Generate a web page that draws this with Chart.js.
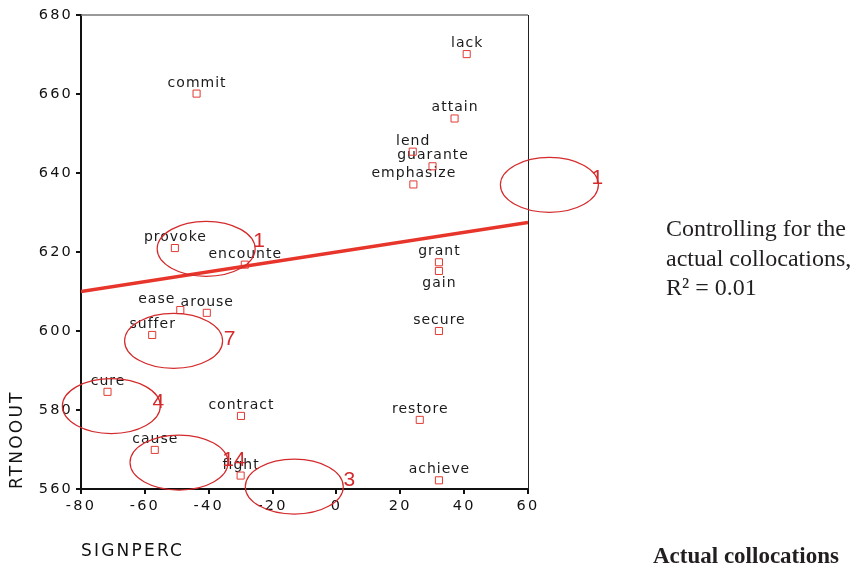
<!DOCTYPE html>
<html>
<head>
<meta charset="utf-8">
<script src="https://cdn.jsdelivr.net/npm/chart.js@4"></script>
<style>
    html, body { margin: 0; padding: 0; background: #fff; }
    #wrap { width: 854px; height: 565px; position: relative; }
</style>
</head>
<body>
<div id="wrap"><canvas id="chart" width="854" height="565"></canvas></div>
<script>
// verbs: SIGNPERC vs RTNOOUT
const words = ['lack', 'commit', 'attain', 'lend', 'guarante', 'emphasize', 'grant', 'gain', 'secure', 'restore',
    'achieve', 'provoke', 'encounte', 'ease', 'arouse', 'suffer', 'cure', 'contract', 'cause', 'fight'];
const signperc = [40.8, -43.8, 37.0, 23.9, 30.1, 24.1, 32.1, 32.1, 32.1, 26.1,
    32.1, -50.6, -28.7, -48.9, -40.6, -57.7, -71.7, -29.9, -56.9, -30.0];
const rtnoout = [670.1, 660.1, 653.8, 645.4, 641.7, 637.1, 617.4, 615.2, 600.0, 577.5,
    562.2, 621.0, 616.8, 605.3, 604.6, 599.0, 584.6, 578.5, 569.9, 563.4];

// fit line
const fitX = [-80, 60];
const fitY = [610.0, 627.5];

// circled groups of actual collocations
const clusterX = [-40.8, 66.7, -51.0, -70.5, -49.3, -13.2];
const clusterY = [620.8, 637.0, 597.5, 581.0, 566.7, 560.6];
const clusterCount = ['1', '1', '7', '4', '14', '3'];

const xTicks = [-80, -60, -40, -20, 0, 20, 40, 60];
const yTicks = [560, 580, 600, 620, 640, 660, 680];

const noteLines = ['Controlling for the', 'actual collocations,', 'R\u00b2 = 0.01'];
const footText = 'Actual collocations';

// label tweaks (pixels)
const labelShift = { ease: [-24, 0], gain: [0, 23] };
const countShift = [[53, -8], [48, -7], [56, -2], [47, -4], [55, -2], [55, -6]];

const red = '#e23a33';

const decor = {
    id: 'decor',
    beforeDraw(chart) {
        chart.ctx.letterSpacing = '2.2px';
    },
    beforeDatasetsDraw(chart) {
        const ctx = chart.ctx;
        const a = chart.chartArea;
        ctx.letterSpacing = '0px';
        // top + right frame
        ctx.save();
        ctx.strokeStyle = '#777';
        ctx.lineWidth = 1.5;
        ctx.beginPath();
        ctx.moveTo(a.left, a.top);
        ctx.lineTo(a.right, a.top);
        ctx.stroke();
        ctx.strokeStyle = '#222';
        ctx.lineWidth = 1;
        ctx.beginPath();
        ctx.moveTo(a.right + 0.5, a.top);
        ctx.lineTo(a.right + 0.5, a.bottom);
        ctx.stroke();
        ctx.restore();

        // point labels
        const meta = chart.getDatasetMeta(0);
        ctx.save();
        ctx.font = '14px "DejaVu Sans"';
        ctx.letterSpacing = '1px';
        ctx.fillStyle = '#1a1a1a';
        ctx.textAlign = 'center';
        ctx.textBaseline = 'alphabetic';
        meta.data.forEach((pt, i) => {
            const s = labelShift[words[i]] || [0, 0];
            ctx.fillText(words[i], pt.x + s[0] + 0.5, pt.y - 7 + s[1]);
        });
        ctx.restore();
    },
    afterDatasetsDraw(chart) {
        const ctx = chart.ctx;
        const xs = chart.scales.x;
        const ys = chart.scales.y;
        ctx.save();
        ctx.strokeStyle = '#d42a2c';
        ctx.lineWidth = 1.2;
        ctx.fillStyle = '#d42a2c';
        ctx.font = '21px "Liberation Sans"';
        ctx.textAlign = 'center';
        ctx.textBaseline = 'middle';
        clusterX.forEach((cx, i) => {
            const px = xs.getPixelForValue(cx);
            const py = ys.getPixelForValue(clusterY[i]);
            ctx.beginPath();
            ctx.ellipse(px, py, 49, 27.5, 0, 0, Math.PI * 2);
            ctx.stroke();
            ctx.fillText(clusterCount[i], px + countShift[i][0], py + countShift[i][1]);
        });
        ctx.restore();
    },
    afterDraw(chart) {
        const ctx = chart.ctx;
        ctx.save();
        ctx.fillStyle = '#231f20';
        ctx.textAlign = 'left';
        ctx.textBaseline = 'alphabetic';
        ctx.font = '24px "Liberation Serif"';
        const base = [236, 266, 295];
        noteLines.forEach((t, i) => ctx.fillText(t, 666, base[i]));
        ctx.font = 'bold 23px "Liberation Serif"';
        ctx.fillText(footText, 653, 563);
        ctx.restore();
    }
};

new Chart(document.getElementById('chart'), {
    type: 'scatter',
    data: {
        datasets: [{
            label: 'RTNOOUT',
            data: signperc.map((x, i) => ({ x: x, y: rtnoout[i] })),
            pointStyle: 'rect',
            radius: 5,
            borderColor: red,
            borderWidth: 1,
            backgroundColor: 'rgba(255,255,255,0)',
            order: 1
        }, {
            type: 'line',
            label: 'fit',
            data: fitX.map((x, i) => ({ x: x, y: fitY[i] })),
            borderColor: '#e8352b',
            borderWidth: 3.5,
            pointRadius: 0,
            fill: false,
            order: 0
        }]
    },
    options: {
        responsive: false,
        animation: false,
        layout: { padding: { top: 15, right: 326, bottom: 0, left: 0 } },
        plugins: {
            legend: { display: false },
            tooltip: { enabled: false }
        },
        scales: {
            x: {
                type: 'linear',
                min: xTicks[0],
                max: xTicks[xTicks.length - 1],
                afterFit: s => { s.height = 76; },
                afterBuildTicks: s => { s.ticks = xTicks.map(v => ({ value: v })); },
                ticks: {
                    color: '#111',
                    font: { family: 'DejaVu Sans', size: 14.5 },
                    padding: 4,
                    maxRotation: 0
                },
                grid: { drawOnChartArea: false, drawTicks: true, tickLength: 5, color: '#111', lineWidth: 2 },
                border: { color: '#111', width: 2 },
                title: {
                    display: true,
                    text: 'SIGNPERC',
                    align: 'start',
                    color: '#111',
                    font: { family: 'DejaVu Sans', size: 17 },
                    padding: { top: 0, bottom: 3 }
                }
            },
            y: {
                type: 'linear',
                min: yTicks[0],
                max: yTicks[yTicks.length - 1],
                afterFit: s => { s.width = 81; },
                afterBuildTicks: s => { s.ticks = yTicks.map(v => ({ value: v })); },
                ticks: {
                    color: '#111',
                    font: { family: 'DejaVu Sans', size: 14.5 },
                    padding: 3
                },
                grid: { drawOnChartArea: false, drawTicks: true, tickLength: 5, color: '#111', lineWidth: 2 },
                border: { color: '#111', width: 2 },
                title: {
                    display: true,
                    text: 'RTNOOUT',
                    align: 'start',
                    color: '#111',
                    font: { family: 'DejaVu Sans', size: 17 },
                    padding: { top: 7, bottom: 0 }
                }
            }
        }
    },
    plugins: [decor]
});
</script>
</body>
</html>
